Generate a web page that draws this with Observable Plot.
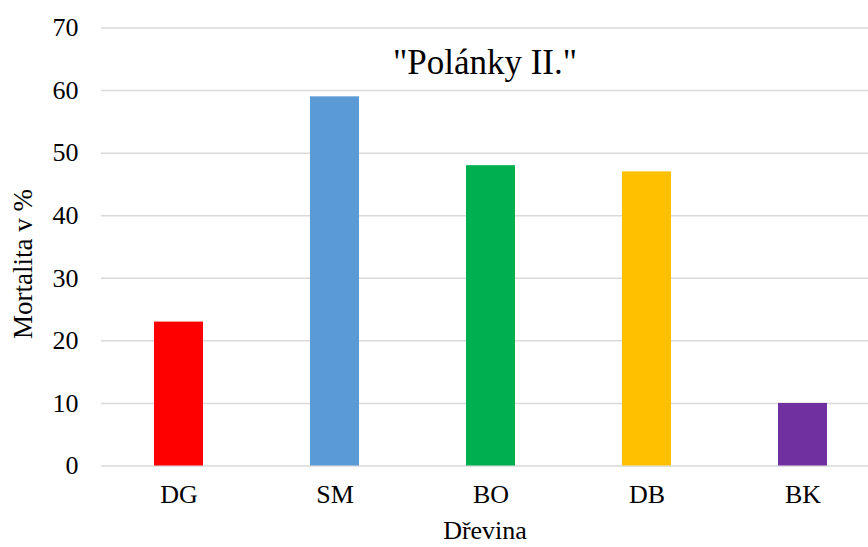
<!DOCTYPE html>
<html>
<head>
<meta charset="utf-8">
<script src="https://cdn.jsdelivr.net/npm/d3@7"></script>
<script src="https://cdn.jsdelivr.net/npm/@observablehq/plot@0.6"></script>
<style>
  html, body { margin: 0; padding: 0; background: #fff; }
  #chart svg { display: block; font-family: "Liberation Serif", "DejaVu Serif", serif !important; }
  #chart svg text { font-family: "Liberation Serif", "DejaVu Serif", serif !important; }
</style>
</head>
<body>
<div id="chart"></div>
<script>
const categories = ["DG", "SM", "BO", "DB", "BK"];
const values = [23, 59, 48, 47, 10];
const colors = ["#FF0000", "#5B9BD5", "#00B050", "#FFC000", "#7030A0"];
const yTicks = [0, 10, 20, 30, 40, 50, 60, 70];
const titleText = "\"Polánky II.\"";
const xLabel = "Dřevina";
const yLabel = "Mortalita v %";

const data = categories.map((c, i) => ({cat: c, value: values[i], color: colors[i]}));

const chart = Plot.plot({
  width: 868,
  height: 547,
  marginLeft: 101,
  marginRight: 0,
  marginTop: 27.5,
  marginBottom: 81.5,
  style: {fontSize: "26px", color: "#000", background: "#fff"},
  x: {domain: categories, range: [100.5, 880.5], paddingInner: 0.686, paddingOuter: 0.343, label: null},
  y: {domain: [0, 70], label: null},
  marks: [
    Plot.gridY(yTicks, {stroke: "#d9d9d9", strokeOpacity: 1, strokeWidth: 1.5}),
    Plot.barY(data, {x: "cat", y: "value", fill: "color"}),
    Plot.axisY(yTicks, {tickSize: 0, tickPadding: 23, fontSize: 26, fill: "#000", label: null}),
    Plot.axisX({tickSize: 0, tickPadding: 19, fontSize: 26, fill: "#000", label: null}),
    Plot.text([xLabel], {frameAnchor: "bottom", dy: 65, fontSize: 26, fill: "#000", lineAnchor: "middle"}),
    Plot.text([yLabel], {frameAnchor: "left", textAnchor: "middle", dx: -78, dy: 17, rotate: -90, fontSize: 27, fill: "#000", lineAnchor: "middle"}),
    Plot.text([titleText], {frameAnchor: "top", dy: 34.5, fontSize: 35, fill: "#000", lineAnchor: "middle"})
  ]
});
document.getElementById("chart").appendChild(chart);
</script>
</body>
</html>
